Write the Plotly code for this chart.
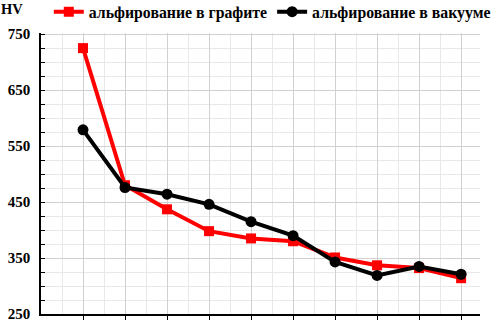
import plotly.graph_objects as go

x_pos = [1, 2, 3, 4, 5, 6, 7, 8, 9, 10]
graphite = [725, 480, 437, 398, 385, 380, 351, 337, 332, 314]
vacuum = [579, 476, 464, 446, 415, 390, 343, 319, 335, 321]
y_ticks = [250, 350, 450, 550, 650, 750]
name_graphite = "альфирование в графите"
name_vacuum = "альфирование в вакууме"

font_family = "Liberation Serif, Times New Roman, serif"

fig = go.Figure()
fig.add_trace(go.Scatter(
    x=x_pos, y=graphite, name=name_graphite, mode="lines+markers",
    line=dict(color="#ff0000", width=4),
    marker=dict(symbol="square", size=10, color="#ff0000"),
))
fig.add_trace(go.Scatter(
    x=x_pos, y=vacuum, name=name_vacuum, mode="lines+markers",
    line=dict(color="#000000", width=4),
    marker=dict(symbol="circle", size=11, color="#000000"),
))

fig.update_layout(
    width=492, height=321,
    margin=dict(l=41, r=12, t=33, b=7, autoexpand=False),
    plot_bgcolor="white", paper_bgcolor="white",
    font=dict(family=font_family, size=14, color="black"),
    showlegend=True,
    legend=dict(orientation="h", x=1.036, y=1.075, xanchor="right", yanchor="middle",
                font=dict(family=font_family, size=15.8, color="black", weight="bold"),
                itemwidth=30, tracegroupgap=0, bgcolor="rgba(0,0,0,0)", borderwidth=0),
    xaxis=dict(range=[0, 10.45], tickvals=x_pos, showticklabels=False, automargin=False,
               ticks="outside", ticklen=4, tickcolor="black",
               showline=True, linecolor="black", linewidth=1.5,
               showgrid=True, gridcolor="#d0d0d0", gridwidth=1,
               minor=dict(dtick=0.5, tick0=0.5, showgrid=True, gridcolor="#e8e8e8", ticks=""),
               zeroline=False, fixedrange=True),
    yaxis=dict(range=[250, 752], tickvals=y_ticks, ticks="inside", ticklen=4, tickcolor="black",
               automargin=False, ticklabelstandoff=6, ticklabeloverflow="allow",
               showline=True, linecolor="black", linewidth=1.5,
               showgrid=True, gridcolor="#d0d0d0", gridwidth=1,
               tickfont=dict(family=font_family, size=15, color="black", weight="bold"),
               minor=dict(dtick=25, tick0=250, showgrid=True, gridcolor="#e8e8e8",
                          ticks="inside", ticklen=4, tickcolor="black"),
               zeroline=False, fixedrange=True),
    annotations=[dict(text="<b>HV</b>", x=0, y=1, xref="paper", yref="paper",
                      xshift=-42, yshift=14, xanchor="left", yanchor="bottom",
                      showarrow=False, font=dict(family=font_family, size=14.5, color="black"))],
)

fig.write_html("out.html", config={"displayModeBar": False},
               post_script="document.body.style.margin='0';")
